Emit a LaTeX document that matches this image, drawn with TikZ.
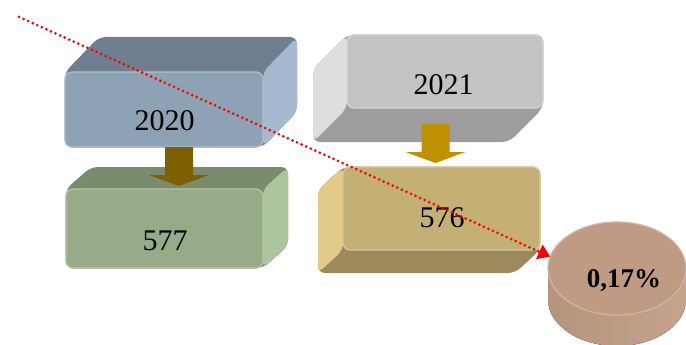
\documentclass[tikz,border=0pt]{standalone}
\usepackage{fontspec}
\setmainfont{Liberation Serif}
\usetikzlibrary{arrows.meta,positioning,calc,shapes.geometric}
\definecolor{BlueFront}{HTML}{8EA2B6}
\definecolor{BlueTop}{HTML}{6F7F8F}
\definecolor{BlueSide}{HTML}{A5BAD1}
\definecolor{GreenFront}{HTML}{97AB89}
\definecolor{GreenTop}{HTML}{7A8C6C}
\definecolor{GreenSide}{HTML}{ADC59C}
\definecolor{GrayFront}{HTML}{C3C3C3}
\definecolor{GraySide}{HTML}{DEDEDE}
\definecolor{GrayBottom}{HTML}{9D9D9D}
\definecolor{SandFront}{HTML}{C4AF74}
\definecolor{SandSide}{HTML}{E2CB89}
\definecolor{SandBottom}{HTML}{9C8A5C}
\definecolor{ArrowBrown}{HTML}{7F6000}
\definecolor{ArrowGold}{HTML}{BF9000}
\definecolor{CylTop}{HTML}{C09B84}
\definecolor{CylDark}{HTML}{9E7B66}
\definecolor{TrendRed}{HTML}{FF0000}
\tikzset{
  face/.style={rectangle, rounded corners=7pt, line width=1.2pt, inner sep=0pt, outer sep=0pt},
  side/.style={rounded corners=7pt},
  num/.style={font=\fontsize{30}{36}\selectfont, inner sep=0pt, anchor=base},
  pctnum/.style={font=\bfseries\fontsize{27}{32}\selectfont, inner sep=0pt, anchor=base},
  trend/.style={draw=TrendRed, line width=3pt, line cap=round, dash pattern=on 0pt off 5pt, -{Triangle[length=12pt,width=15pt]}},
  pics/downarrow/.style={code={\fill[#1] (-14,0) -- (14,0) -- (14,28) -- (30,28) -- (0,39) -- (-30,28) -- (-14,28) -- cycle;}}
}
\begin{document}
\begin{tikzpicture}[x=1pt, y=-1pt]
\useasboundingbox (0,0) rectangle (686,345);

% 2020 box, extruded up and right
\node[face, fill=BlueFront, draw=BlueFront!70!white, minimum width=198pt, minimum height=75pt] (y2020) at (164,109.5) {};
\fill[side, BlueTop] (y2020.south west) -- (y2020.north west) -- ++(34,-35) -- ($(y2020.north east)+(34,-35)$) -- ($(y2020.south east)+(34,-35)$) -- (y2020.south east) -- cycle;
\fill[side, BlueSide] (y2020.north east) -- ++(34,-35) -- ($(y2020.south east)+(34,-35)$) -- (y2020.south east) -- cycle;
\node[face, fill=BlueFront, draw=BlueFront!70!white, minimum width=198pt, minimum height=75pt] at (y2020) {};
\node[num] (t2020) at (164.5,130) {2020};

% 577 box
\node[face, fill=GreenFront, draw=GreenFront!70!white, minimum width=197pt, minimum height=79pt] (y577) at (164.5,228.5) {};
\fill[side, GreenTop] (y577.south west) -- (y577.north west) -- ++(25,-22) -- ($(y577.north east)+(25,-22)$) -- ($(y577.south east)+(25,-22)$) -- (y577.south east) -- cycle;
\fill[side, GreenSide] (y577.north east) -- ++(25,-22) -- ($(y577.south east)+(25,-22)$) -- (y577.south east) -- cycle;
\node[face, fill=GreenFront, draw=GreenFront!70!white, minimum width=197pt, minimum height=79pt] at (y577) {};
\node[num] (t577) at (165,250) {577};

% 2021 box, extruded down and left
\node[face, fill=GrayFront, draw=GrayFront!70!white, minimum width=196pt, minimum height=73pt] (y2021) at (445,71.5) {};
\fill[side, GrayBottom] (y2021.north west) -- (y2021.north east) -- (y2021.south east) -- ++(-34,34) -- ($(y2021.south west)+(-34,34)$) -- ($(y2021.north west)+(-34,34)$) -- cycle;
\fill[side, GraySide] (y2021.north west) -- ++(-34,34) -- ($(y2021.south west)+(-34,34)$) -- (y2021.south west) -- cycle;
\node[face, fill=GrayFront, draw=GrayFront!70!white, minimum width=196pt, minimum height=73pt] at (y2021) {};
\node[num] (t2021) at (443.5,95) {2021};

% 576 box
\node[face, fill=SandFront, draw=SandFront!70!white, minimum width=197pt, minimum height=83pt] (y576) at (441.5,208.5) {};
\fill[side, SandBottom] (y576.north west) -- (y576.north east) -- (y576.south east) -- ++(-25,23) -- ($(y576.south west)+(-25,23)$) -- ($(y576.north west)+(-25,23)$) -- cycle;
\fill[side, SandSide] (y576.north west) -- ++(-25,23) -- ($(y576.south west)+(-25,23)$) -- (y576.south west) -- cycle;
\node[face, fill=SandFront, draw=SandFront!70!white, minimum width=197pt, minimum height=83pt] at (y576) {};
\node[num] (t576) at (442,227) {576};

% block arrows
\pic at ($(y2020.south)+(15,0)$) {downarrow=ArrowBrown};
\pic at ($(y2021.south)+(-9.5,16)$) {downarrow=ArrowGold};

% cylinder
\fill[left color=CylTop!95!black, middle color=CylDark, right color=CylTop!92!white] (548,268.5) -- (548,299.5) arc[start angle=180, end angle=360, x radius=69pt, y radius=46.5pt] -- (686,268.5) -- cycle;
\node[ellipse, fill=CylTop, draw=CylTop!75!white, line width=1.2pt, inner sep=0pt, outer sep=0pt, minimum width=138pt, minimum height=93pt] (pct) at (617,268.5) {};
\node[pctnum] (tpct) at (624,287) {0,17\%};

% trend line
\coordinate (start) at (19,17);
\draw[trend] (start) -- (pct.170);
\end{tikzpicture}
\end{document}
